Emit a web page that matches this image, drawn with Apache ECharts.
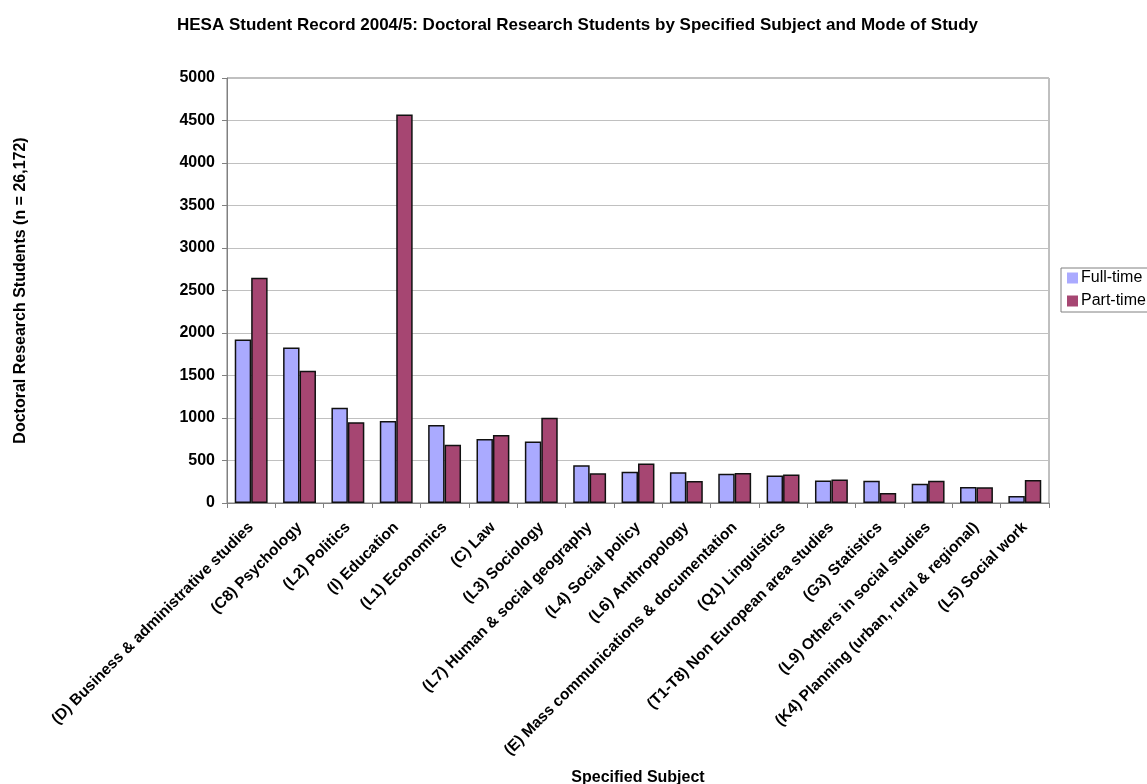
<!DOCTYPE html>
<html>
<head>
<meta charset="utf-8">
<script src="https://cdn.jsdelivr.net/npm/echarts@6/dist/echarts.min.js"></script>
<style>html,body{margin:0;padding:0;background:#fff}#c{width:1147px;height:784px}</style>
</head>
<body>
<div id="c"></div>
<script>
const categories = [
  "(D) Business & administrative studies",
  "(C8) Psychology",
  "(L2) Politics",
  "(I) Education",
  "(L1) Economics",
  "(C) Law",
  "(L3) Sociology",
  "(L7) Human & social geography",
  "(L4) Social policy",
  "(L6) Anthropology",
  "(E) Mass communications & documentation",
  "(Q1) Linguistics",
  "(T1-T8) Non European area studies",
  "(G3) Statistics",
  "(L9) Others in social studies",
  "(K4) Planning (urban, rural & regional)",
  "(L5) Social work"
];
const fullTime = [1925, 1830, 1122, 965, 917, 753, 725, 443, 368, 361, 345, 324, 266, 262, 227, 187, 82];
const partTime = [2650, 1555, 949, 4570, 685, 800, 1004, 349, 466, 259, 353, 336, 277, 117, 262, 185, 270];
const yTicks = [0, 500, 1000, 1500, 2000, 2500, 3000, 3500, 4000, 4500, 5000];

const FONT = "'Liberation Sans', Arial, sans-serif";
const chart = echarts.init(document.getElementById('c'), null, {renderer: 'canvas'});
chart.setOption({
  animation: false,
  backgroundColor: '#ffffff',
  title: {
    text: 'HESA Student Record 2004/5: Doctoral Research Students by Specified Subject and Mode of Study',
    left: 172, top: 12,
    textStyle: {fontFamily: FONT, fontWeight: 'bold', fontSize: 17, color: '#000'}
  },
  legend: {
    orient: 'vertical', left: 1061, top: 268,
    data: ['Full-time', 'Part-time'],
    itemWidth: 11, itemHeight: 11, itemGap: 5,
    padding: [1, 10, 2, 6],
    borderColor: '#808080', borderWidth: 1,
    icon: 'rect',
    itemStyle: {borderWidth: 0},
    textStyle: {fontFamily: FONT, fontSize: 16, lineHeight: 18, color: '#000', padding: [0, 0, 0, -2]}
  },
  grid: {
    left: 227, right: 98, top: 78, bottom: 281,
    outerBoundsMode: 'none',
    show: true, borderColor: '#808080', borderWidth: 1, containLabel: false
  },
  xAxis: {
    type: 'category', data: categories,
    name: 'Specified Subject', nameLocation: 'middle', nameGap: 267,
    nameTextStyle: {fontFamily: FONT, fontWeight: 'bold', fontSize: 16, color: '#000'},
    axisLine: {lineStyle: {color: '#808080', width: 1}},
    axisTick: {show: true, length: 5, lineStyle: {color: '#808080'}},
    axisLabel: {rotate: 45, interval: 0, margin: 22, fontFamily: FONT, fontWeight: 'bold', fontSize: 15.5, color: '#000'}
  },
  yAxis: {
    type: 'value', min: 0, max: 5000, interval: 500,
    name: 'Doctoral Research Students (n = 26,172)', nameLocation: 'middle', nameGap: 198,
    nameTextStyle: {fontFamily: FONT, fontWeight: 'bold', fontSize: 16, color: '#000'},
    axisLine: {show: true, lineStyle: {color: '#808080', width: 1}},
    axisTick: {show: true, length: 5, lineStyle: {color: '#808080'}},
    axisLabel: {margin: 12, fontFamily: FONT, fontWeight: 'bold', fontSize: 16, color: '#000',
      formatter: v => yTicks.includes(v) ? String(v) : ''},
    splitLine: {show: true, lineStyle: {color: '#c0c0c0', width: 1}}
  },
  series: [
    {name: 'Full-time', type: 'bar', data: fullTime, barGap: '0%', barCategoryGap: '32%',
     itemStyle: {color: '#aaaaff', borderColor: '#111', borderWidth: 1.5}},
    {name: 'Part-time', type: 'bar', data: partTime, barGap: '0%', barCategoryGap: '32%',
     itemStyle: {color: '#a64672', borderColor: '#111', borderWidth: 1.5}}
  ]
});
</script>
</body>
</html>
